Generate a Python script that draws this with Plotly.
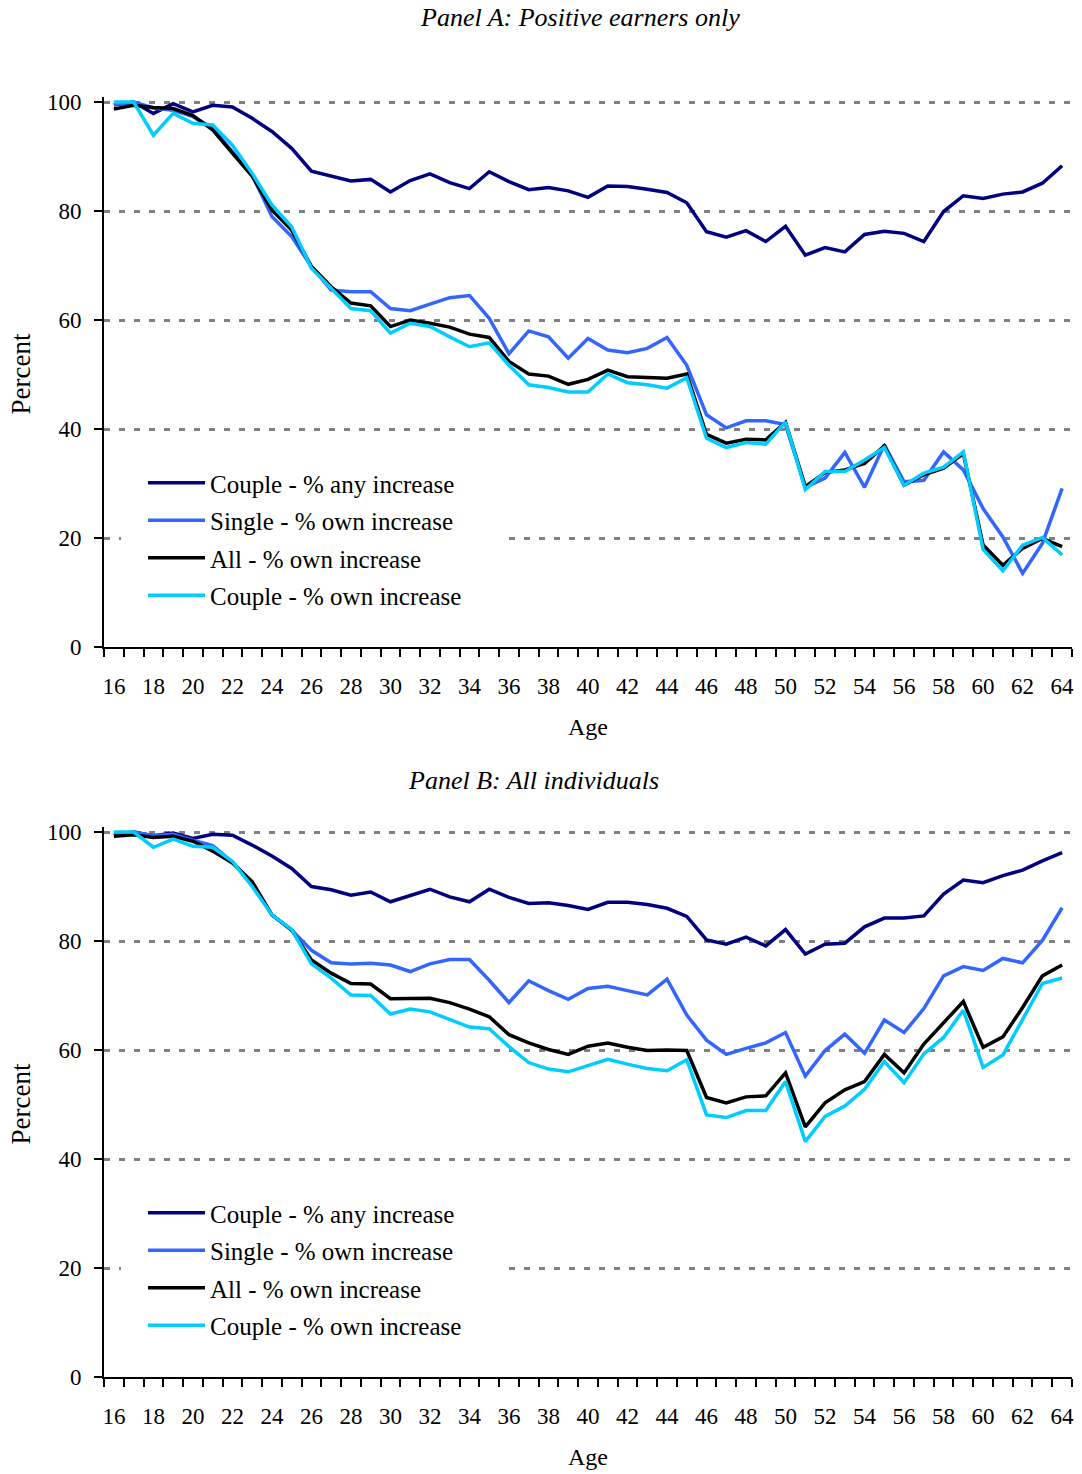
import plotly.graph_objects as go

ages = list(range(16, 65))

series_names = ["Couple - % any increase", "Single - % own increase",
                "All - % own increase", "Couple - % own increase"]
series_colors = ["#000080", "#3366FF", "#000000", "#00CCFF"]

# Panel A: Positive earners only
a_couple_any = [99.5, 100, 97.9, 99.7, 98.2, 99.4, 99.1, 97.0, 94.6, 91.5,
                87.3, 86.4, 85.5, 85.8, 83.5, 85.6, 86.8, 85.2, 84.1, 87.2,
                85.4, 83.9, 84.3, 83.7, 82.5, 84.6, 84.5, 84.0, 83.4, 81.5,
                76.2, 75.2, 76.4, 74.4, 77.2, 71.9, 73.3, 72.5, 75.7, 76.3,
                75.9, 74.4, 79.9, 82.8, 82.3, 83.1, 83.5, 85.1, 88.3]
a_single = [99.5, 100, 98.9, 98.5, 97.3, 95.2, 90.9, 86.6, 79.0, 75.3,
            69.8, 65.5, 65.2, 65.2, 62.1, 61.7, 62.9, 64.1, 64.5, 60.3,
            53.8, 58.0, 56.9, 53.0, 56.6, 54.5, 54.0, 54.8, 56.8, 51.7,
            42.6, 40.2, 41.5, 41.5, 40.8, 29.3, 31.0, 35.7, 29.3, 37.1,
            30.3, 30.6, 35.8, 32.5, 25.4, 20.2, 13.5, 19.0, 29.1]
a_all = [98.7, 99.4, 99.0, 98.8, 97.5, 94.9, 90.6, 86.4, 80.2, 76.5,
         69.8, 66.1, 63.1, 62.6, 58.8, 60.0, 59.4, 58.7, 57.4, 56.8,
         52.4, 50.1, 49.7, 48.2, 49.1, 50.8, 49.6, 49.4, 49.3, 50.1,
         39.0, 37.4, 38.1, 38.0, 41.2, 29.4, 32.0, 32.5, 33.7, 36.9,
         29.7, 31.6, 32.8, 35.5, 18.7, 15.0, 18.1, 19.9, 18.4]
a_couple_own = [100, 100, 93.9, 97.9, 96.1, 95.8, 92.1, 86.9, 81.1, 77.1,
                69.5, 65.8, 62.1, 61.7, 57.6, 59.4, 58.8, 56.9, 55.1, 55.8,
                51.7, 48.1, 47.6, 46.8, 46.8, 50.1, 48.5, 48.1, 47.5, 49.4,
                38.3, 36.6, 37.5, 37.2, 41.3, 28.9, 32.2, 32.2, 34.3, 36.6,
                29.7, 31.9, 33.0, 35.8, 17.9, 14.0, 18.7, 20.1, 16.9]

# Panel B: All individuals
b_couple_any = [99.5, 100, 99.3, 99.8, 98.8, 99.6, 99.4, 97.6, 95.6, 93.3,
                90.0, 89.4, 88.4, 89.0, 87.2, 88.4, 89.5, 88.1, 87.2, 89.5,
                88.0, 86.9, 87.0, 86.5, 85.8, 87.1, 87.1, 86.7, 86.0, 84.5,
                80.2, 79.4, 80.7, 79.1, 82.1, 77.6, 79.4, 79.6, 82.6, 84.2,
                84.2, 84.6, 88.6, 91.2, 90.7, 92.0, 93.0, 94.7, 96.2]
b_single = [99.5, 100, 99.3, 99.6, 98.5, 97.5, 94.5, 90.6, 84.8, 82.0,
            78.3, 76.0, 75.8, 75.9, 75.6, 74.4, 75.8, 76.6, 76.6, 72.8,
            68.7, 72.7, 70.9, 69.3, 71.3, 71.7, 70.9, 70.1, 73.0, 66.4,
            61.8, 59.2, 60.3, 61.3, 63.2, 55.2, 59.9, 62.9, 59.4, 65.5,
            63.2, 67.6, 73.6, 75.3, 74.6, 76.8, 76.0, 80.1, 86.1]
b_all = [99.2, 99.5, 99.0, 99.2, 98.3, 96.5, 94.3, 90.9, 84.8, 82.0,
         76.5, 74.1, 72.2, 72.1, 69.4, 69.4, 69.5, 68.7, 67.5, 66.1,
         62.8, 61.3, 60.1, 59.2, 60.7, 61.3, 60.5, 59.9, 60.0, 59.9,
         51.3, 50.3, 51.4, 51.6, 55.8, 45.9, 50.3, 52.7, 54.2, 59.2,
         55.8, 61.1, 64.9, 68.9, 60.5, 62.4, 67.8, 73.6, 75.6]
b_couple_own = [100, 100, 97.2, 98.7, 97.4, 97.2, 94.6, 90.0, 84.8, 82.1,
                75.8, 73.2, 70.1, 70.0, 66.6, 67.5, 67.0, 65.6, 64.2, 63.9,
                60.6, 57.7, 56.5, 56.0, 57.2, 58.3, 57.4, 56.6, 56.2, 58.2,
                48.1, 47.6, 48.9, 48.9, 54.2, 43.2, 47.8, 49.7, 52.8, 57.9,
                54.0, 59.3, 62.3, 67.3, 56.8, 59.1, 65.6, 72.2, 73.2]

x_tick_labels = [str(a) for a in range(16, 65, 2)]
y_ticks = [0, 20, 40, 60, 80, 100]

W, H = 1082, 1474
FONT = "Liberation Serif"

def px_y(p):
    return 1 - p / H

def px_x(p):
    return p / W

fig = go.Figure()

panels = [
    ([a_couple_any, a_single, a_all, a_couple_own], "x", "y", "legend"),
    ([b_couple_any, b_single, b_all, b_couple_own], "x2", "y2", "legend2"),
]
for data, xa, ya, lg in panels:
    for i, (vals, name, col) in enumerate(zip(data, series_names, series_colors)):
        fig.add_trace(go.Scatter(
            x=ages, y=vals, mode="lines", name=name,
            line=dict(color=col, width=3.5),
            xaxis=xa, yaxis=ya, legend=lg, legendgroup=f"{lg}{i}",
            hoverinfo="skip"))

xdom = [px_x(104), px_x(1072)]
common_x = dict(
    range=[15.5, 64.5], domain=xdom,
    tickmode="array", tickvals=list(range(16, 65, 2)), ticktext=x_tick_labels,
    ticks="", showgrid=False, zeroline=False,
    showline=True, linecolor="black", linewidth=2,
    tickfont=dict(family=FONT, size=23, color="black"),
    ticklabelstandoff=17,
    minor=dict(tickmode="array", tickvals=[a - 0.5 for a in range(16, 66)],
               ticks="outside", ticklen=8, tickwidth=2, tickcolor="black",
               showgrid=False),
)
common_y = dict(
    range=[0, 101], tickmode="array", tickvals=y_ticks,
    ticks="outside", ticklen=8, tickwidth=2, tickcolor="black",
    showline=True, linecolor="black", linewidth=2,
    showgrid=True, gridcolor="#808080", gridwidth=2.5, griddash="6px,9px",
    zeroline=False,
    tickfont=dict(family=FONT, size=23, color="black"),
    ticklabelstandoff=8,
)
scale = 545.0  # pixels per 100 units
fig.update_layout(
    xaxis=dict(**common_x, anchor="y"),
    yaxis=dict(**common_y, anchor="x", domain=[px_y(647), px_y(647 - scale * 1.01)]),
    xaxis2=dict(**common_x, anchor="y2"),
    yaxis2=dict(**common_y, anchor="x2", domain=[px_y(1377), px_y(1377 - scale * 1.01)]),
)

leg_common = dict(
    xanchor="left", yanchor="top", bgcolor="white", borderwidth=0,
    font=dict(family=FONT, size=25, color="black"),
    tracegroupgap=2, itemwidth=57, traceorder="grouped",
)
fig.update_layout(
    legend=dict(**leg_common, x=px_x(143), y=px_y(460)),
    legend2=dict(**leg_common, x=px_x(143), y=px_y(1190)),
)

annots = [
    dict(text="<i>Panel A: Positive earners only</i>", x=px_x(580), y=px_y(17), size=26),
    dict(text="<i>Panel B: All individuals</i>", x=px_x(533), y=px_y(780), size=26),
    dict(text="Age", x=px_x(588), y=px_y(727), size=24),
    dict(text="Age", x=px_x(588), y=px_y(1457), size=24),
]
for a in annots:
    fig.add_annotation(text=a["text"], x=a["x"], y=a["y"], xref="paper", yref="paper",
                       xanchor="center", yanchor="middle", showarrow=False,
                       font=dict(family=FONT, size=a["size"], color="black"))
for yc in [374.5, 1104.5]:
    fig.add_annotation(text="Percent", x=px_x(20), y=px_y(yc), xref="paper", yref="paper",
                       xanchor="center", yanchor="middle", showarrow=False, textangle=-90,
                       font=dict(family=FONT, size=27, color="black"))

# white legend box area hiding the grid lines (no data falls in these regions)
for top, bot in [(468, 616), (1198, 1346)]:
    fig.add_shape(type="rect", xref="paper", yref="paper",
                  x0=px_x(121), x1=px_x(500), y0=px_y(bot), y1=px_y(top),
                  fillcolor="white", line=dict(width=0), layer="above")

fig.update_layout(
    width=W, height=H,
    margin=dict(l=0, r=0, t=0, b=0, pad=0, autoexpand=False),
    paper_bgcolor="white", plot_bgcolor="white", showlegend=True,
)

fig.write_html("out.html", config={"displayModeBar": False, "responsive": False})

# remove the default page margin so the figure fills the window exactly
with open("out.html", "r", encoding="utf-8") as f:
    html = f.read()
html = html.replace("<body>", '<body style="margin:0;padding:0;overflow:hidden;">', 1)
with open("out.html", "w", encoding="utf-8") as f:
    f.write(html)
